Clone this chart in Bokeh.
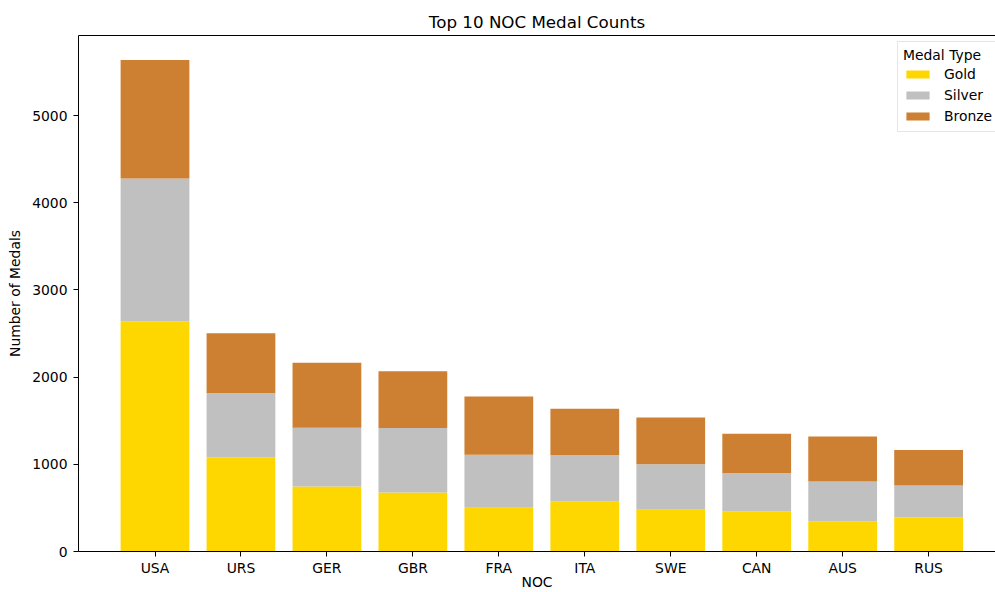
from bokeh.plotting import figure
from bokeh.models import Range1d, FixedTicker, LinearAxis, Legend, LegendItem, ColumnDataSource
from bokeh.embed import file_html
from bokeh.resources import INLINE

nocs = ["USA", "URS", "GER", "GBR", "FRA", "ITA", "SWE", "CAN", "AUS", "RUS"]
gold = [2638, 1082, 745, 678, 501, 575, 479, 463, 348, 390]
silver = [1641, 732, 674, 739, 610, 531, 522, 438, 455, 367]
bronze = [1358, 689, 746, 651, 666, 531, 535, 451, 517, 408]
y_ticks = [0, 1000, 2000, 3000, 4000, 5000]

FONT = "DejaVu Sans"
FS = "13.9px"

xpos = list(range(len(nocs)))
totals = [g + s + b for g, s, b in zip(gold, silver, bronze)]
src = ColumnDataSource(dict(x=xpos, Gold=gold, Silver=silver, Bronze=bronze))

p = figure(width=995, height=592, output_backend="svg", toolbar_location=None,
           x_range=Range1d(-0.89, 9.778), y_range=Range1d(0, max(totals) * 1.05),
           min_border_left=78, min_border_right=0, min_border_top=35, min_border_bottom=41)

rs = p.vbar_stack(["Gold", "Silver", "Bronze"], x="x", width=0.8, source=src,
                  color=["#FFD700", "#C0C0C0", "#CD7F32"], line_color=None)

p.title.text = "Top 10 NOC Medal Counts"
p.title.align = "center"
p.title.offset = 5
p.title.standoff = 8
p.title.text_font = FONT
p.title.text_font_size = "16.7px"
p.title.text_font_style = "normal"
p.title.text_color = "black"

p.xgrid.grid_line_color = None
p.ygrid.grid_line_color = None
p.outline_line_color = None

for ax in (p.xaxis[0], p.yaxis[0]):
    ax.major_tick_in = 0
    ax.major_tick_out = 5
    ax.minor_tick_line_color = None
    ax.axis_line_color = "black"
    ax.major_tick_line_color = "black"
    ax.major_label_text_color = "black"
    ax.major_label_text_font = FONT
    ax.major_label_text_font_size = FS
    ax.axis_label_text_font = FONT
    ax.axis_label_text_font_size = FS
    ax.axis_label_text_font_style = "normal"
    ax.axis_label_text_color = "black"

p.xaxis.ticker = FixedTicker(ticks=xpos)
p.xaxis.major_label_overrides = {i: n for i, n in zip(xpos, nocs)}
p.xaxis.major_label_standoff = 3
p.xaxis.axis_label = "NOC"
p.xaxis.axis_label_standoff = -5

p.yaxis.ticker = FixedTicker(ticks=y_ticks)
p.yaxis.axis_label = "Number of Medals"
p.yaxis.major_label_standoff = 6
p.yaxis.axis_label_standoff = 6

top = LinearAxis(ticker=FixedTicker(ticks=[]), major_tick_line_color=None,
                 minor_tick_line_color=None, major_label_text_font_size="0px",
                 major_label_standoff=0, axis_line_color="black")
p.add_layout(top, "above")

legend = Legend(items=[LegendItem(label="Gold", renderers=[rs[0]]),
                       LegendItem(label="Silver", renderers=[rs[1]]),
                       LegendItem(label="Bronze", renderers=[rs[2]])],
                title="Medal Type", location=(819, 419))
legend.title_text_font = FONT
legend.title_text_font_size = FS
legend.title_text_font_style = "normal"
legend.title_text_color = "black"
legend.title_standoff = 1
legend.label_text_font = FONT
legend.label_text_font_size = FS
legend.label_text_color = "black"
legend.glyph_width = 29
legend.glyph_height = 10
legend.label_height = 20
legend.label_standoff = 12
legend.spacing = 1
legend.padding = 5
legend.margin = 0
legend.border_line_color = "#cccccc"
legend.background_fill_alpha = 0.8
p.add_layout(legend)

open("out.html", "w").write(file_html(p, INLINE))
